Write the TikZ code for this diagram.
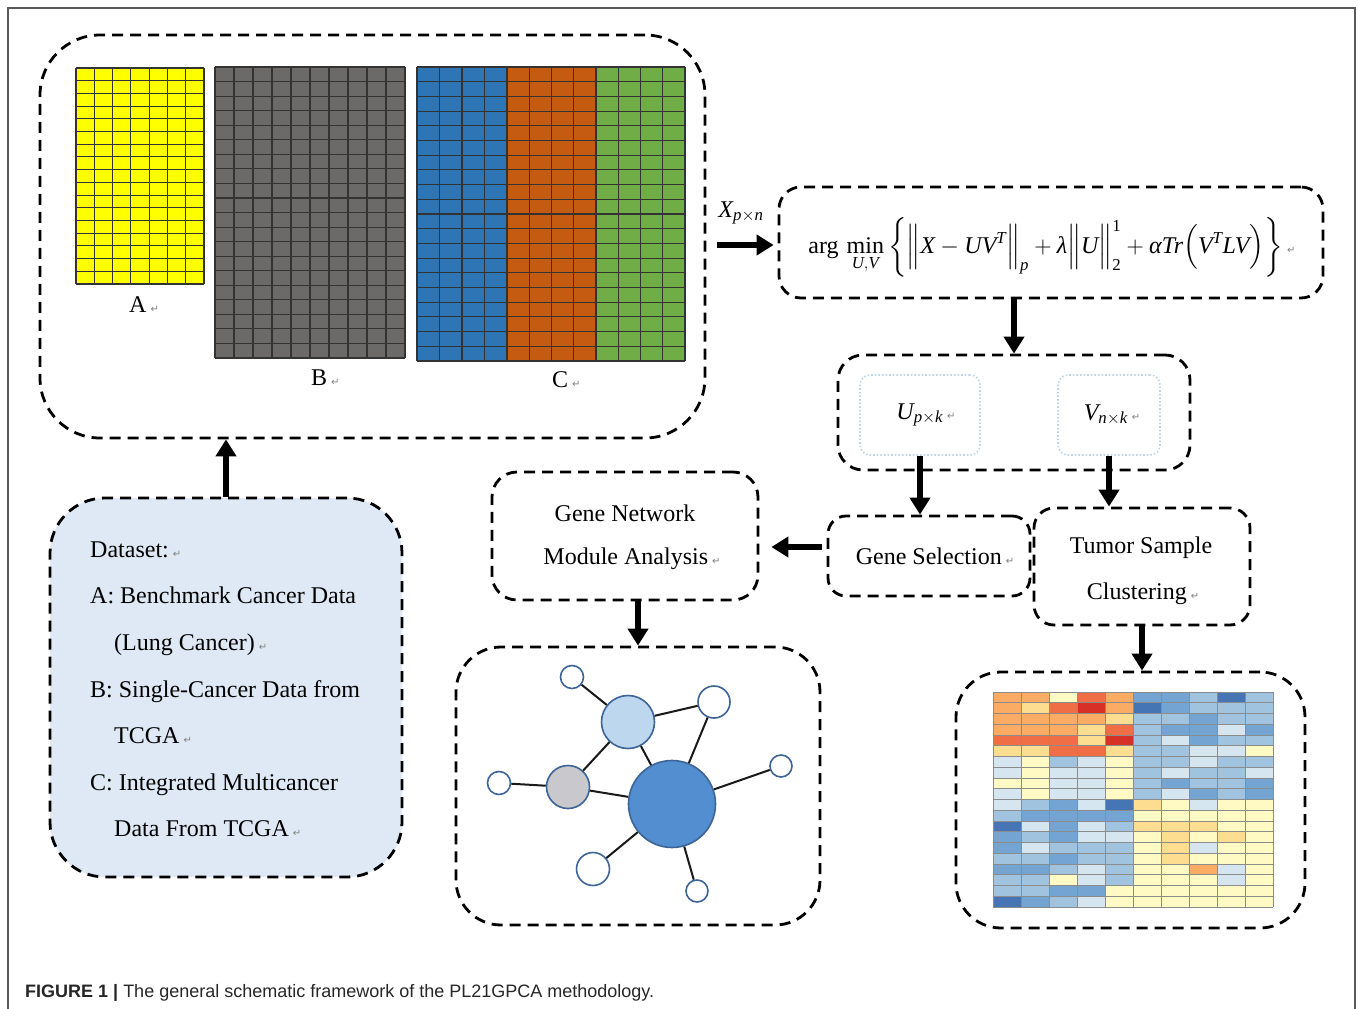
\RequirePackage{fix-cm}
\documentclass[tikz,border=0pt]{standalone}
\usepackage{amsmath}
\usepackage{fontspec}
\usepackage{graphicx}
\setmainfont{Liberation Serif}
\newfontfamily\capfont{Liberation Sans}
\newfontfamily\symfont{DejaVu Sans}
\usetikzlibrary{arrows.meta,calc}

\definecolor{myyellow}{RGB}{255,255,0}
\definecolor{mygray}{RGB}{108,105,105}
\definecolor{myblue}{RGB}{46,117,182}
\definecolor{myorange}{RGB}{197,90,17}
\definecolor{mygreen}{RGB}{112,173,71}
\definecolor{datafill}{RGB}{222,233,245}
\definecolor{dotblue}{RGB}{190,212,232}
\definecolor{netline}{RGB}{60,100,150}
\definecolor{netlight}{RGB}{189,215,238}
\definecolor{netbig}{RGB}{82,142,208}
\definecolor{netgray}{RGB}{200,200,205}
\definecolor{hm1}{RGB}{69,117,180}
\definecolor{hm2}{RGB}{116,165,210}
\definecolor{hm3}{RGB}{160,196,224}
\definecolor{hm4}{RGB}{214,230,240}
\definecolor{hm5}{RGB}{255,250,195}
\definecolor{hm6}{RGB}{253,222,145}
\definecolor{hm7}{RGB}{250,172,100}
\definecolor{hm8}{RGB}{240,110,70}
\definecolor{hm9}{RGB}{215,48,39}

\newcommand\retmark{\,{\symfont\fontsize{10}{10}\selectfont\color{gray}↵}}
\newcommand\ti[1]{\textit{#1}}
\newcommand\gridmat[7]{%
  \fill[#7] (#1,#2) rectangle (#3,#4);
  \foreach \i in {0,...,#5} {\draw[gridl] ({#1+\i*(#3-#1)/#5},#2) -- ({#1+\i*(#3-#1)/#5},#4);}
  \foreach \j in {0,...,#6} {\draw[gridl] (#1,{#2+\j*(#4-#2)/#6}) -- (#3,{#2+\j*(#4-#2)/#6});}
}

\tikzset{
  dbox/.style={draw=black, line width=2.8pt, dash pattern=on 11pt off 7pt, inner sep=0pt},
  dotbox/.style={draw=dotblue, line width=1.6pt, dotted, rounded corners=10pt, inner sep=0pt},
  gridl/.style={line width=1.1pt, draw=black!80},
  bigarrow/.style={line width=6pt, -{Triangle[length=17pt,width=20pt]}},
  txt/.style={inner sep=0pt, font=\fontsize{24}{28}\selectfont},
  nn/.style={circle, draw=netline, line width=1.6pt, fill=white, inner sep=0pt, minimum size=#1},
  nedge/.style={line width=2pt, draw=black!90},
}

\begin{document}
\begin{tikzpicture}[x=1pt,y=-1pt]
\useasboundingbox (0,0) rectangle (1358,1009);
% outer frame
\draw[line width=1.5pt, draw=black!65] (8,1009) -- (8,8) -- (1355,8) -- (1355,1009);

% boxes
\node[dbox, rounded corners=60pt, minimum width=665pt, minimum height=403pt] (mat) at (372.5,236.5) {};
\node[dbox, fill=datafill, rounded corners=55pt, minimum width=352pt, minimum height=379pt] (data) at (226,687.5) {};
\node[dbox, rounded corners=22pt, minimum width=544pt, minimum height=111pt] (fbox) at (1051,242.5) {};
\node[dbox, rounded corners=25pt, minimum width=352pt, minimum height=115pt] (uvbox) at (1014,412.5) {};
\node[dotbox, minimum width=120pt, minimum height=80pt] (ubox) at (920,415) {};
\node[dotbox, minimum width=102pt, minimum height=80pt] (vbox) at (1109,415) {};
\node[dbox, rounded corners=18pt, minimum width=202pt, minimum height=80pt] (gs) at (929,556) {};
\node[dbox, rounded corners=20pt, minimum width=216pt, minimum height=117pt] (ts) at (1142,566.5) {};
\node[dbox, rounded corners=25pt, minimum width=266pt, minimum height=128pt] (gn) at (625,536) {};
\node[dbox, rounded corners=45pt, minimum width=364pt, minimum height=278pt] (net) at (638,786) {};
\node[dbox, rounded corners=45pt, minimum width=349pt, minimum height=256pt] (hbox) at (1130.5,800) {};

% matrices
\gridmat{76}{68}{204}{284}{7}{17}{myyellow}
\gridmat{215}{67}{405}{358}{10}{20}{mygray}
\gridmat{417}{67}{507}{361}{4}{20}{myblue}
\gridmat{507}{67}{596}{361}{4}{20}{myorange}
\gridmat{596}{67}{685}{361}{4}{20}{mygreen}
\node[txt, anchor=base west] (la) at (129,312) {A\retmark};
\node[txt, anchor=base west] (lb) at (311,385) {B\retmark};
\node[txt, anchor=base west] (lc) at (552,387) {C\retmark};

% dataset text
\node[txt, anchor=base west] (d1) at (90,557) {Dataset:\retmark};
\node[txt, anchor=base west] (d2) at (90,603) {A: Benchmark Cancer Data};
\node[txt, anchor=base west] (d3) at (114,650) {(Lung Cancer)\retmark};
\node[txt, anchor=base west] (d4) at (90,697) {B: Single-Cancer Data from};
\node[txt, anchor=base west] (d5) at (114,743) {TCGA\retmark};
\node[txt, anchor=base west] (d6) at (90,790) {C: Integrated Multicancer};
\node[txt, anchor=base west] (d7) at (114,836) {Data From TCGA\retmark};

% formula
\node[txt] (form) at (1052,247) {$\text{arg}\,\mathop{\text{min}}\limits_{\ti{U},\ti{V}}\bigg\{\Big\|\ti{X}-\ti{UV}^{\ti{T}}\Big\|_{\ti{p}}+\ti{λ}\Big\|\ti{U}\Big\|_{\text{2}}^{\text{1}}+\ti{α}\ti{Tr}\Big(\ti{V}^{\ti{T}}\ti{LV}\Big)\bigg\}$\retmark};
\node[txt] (xl) at (741,213) {$\ti{X}_{\ti{p}\times\ti{n}}$};

% U V
\node[txt] (ul) at (926,415) {$\ti{U}_{\ti{p}\times\ti{k}}$\retmark};
\node[txt] (vl) at (1112,415) {$\ti{V}_{\ti{n}\times\ti{k}}$\retmark};

% process texts
\node[txt] (gst) at (935,556) {Gene Selection\retmark};
\node[txt] (ts1) at (1141,548) {Tumor Sample};
\node[txt] (ts2) at (1143,594) {Clustering\retmark};
\node[txt] (gn1) at (625,513) {Gene Network};
\node[txt] (gn2) at (632,559) {Module Analysis\retmark};

% arrows
\draw[bigarrow] (data.north) -- (data.north |- mat.south);
\draw[bigarrow] ($(mat.east |- 0,245)+(11,0)$) -- ($(fbox.west |- 0,245)+(-4,0)$);
\draw[bigarrow] (uvbox.north |- fbox.south) -- (uvbox.north);
\draw[bigarrow] (ubox.south) -- (ubox.south |- gs.north);
\draw[bigarrow] (vbox.south) -- (vbox.south |- ts.north);
\draw[bigarrow] ($(gs.west |- 0,547)+(-5,0)$) -- ($(gn.east |- 0,547)+(12,0)$);
\draw[bigarrow] (net.north |- gn.south) -- (net.north);
\draw[bigarrow] (ts.south) -- (ts.south |- hbox.north);

% network
\node[nn=23pt] (n1) at (572,677) {};
\node[nn=53pt, fill=netlight] (n2) at (628,722) {};
\node[nn=32pt] (n3) at (714,702) {};
\node[nn=43pt, fill=netgray] (n4) at (568,787) {};
\node[nn=23pt] (n5) at (499,783) {};
\node[nn=87pt, fill=netbig] (n6) at (672,804) {};
\node[nn=22pt] (n7) at (781,766) {};
\node[nn=33pt] (n8) at (593,869) {};
\node[nn=22pt] (n9) at (697,891) {};
\draw[nedge] (n1) -- (n2);
\draw[nedge] (n2) -- (n3);
\draw[nedge] (n2) -- (n6);
\draw[nedge] (n2) -- (n4);
\draw[nedge] (n3) -- (n6);
\draw[nedge] (n4) -- (n5);
\draw[nedge] (n4) -- (n6);
\draw[nedge] (n6) -- (n7);
\draw[nedge] (n6) -- (n8);
\draw[nedge] (n6) -- (n9);

% heatmap
\foreach \row [count=\r from 0] in {
 {7,7,5,8,7,2,2,3,1,3},
 {7,6,8,9,7,1,2,3,3,3},
 {7,7,7,7,6,3,3,2,3,3},
 {7,7,7,6,8,3,2,2,4,2},
 {8,8,8,6,9,3,4,2,3,3},
 {6,6,8,8,6,3,3,4,4,5},
 {4,5,3,4,5,3,3,4,3,3},
 {4,5,4,4,5,3,4,3,3,4},
 {5,5,4,4,5,3,2,3,3,2},
 {4,5,4,4,5,3,4,2,3,2},
 {4,3,2,4,1,6,5,4,5,5},
 {3,2,2,2,2,5,5,5,5,5},
 {1,4,2,4,3,6,6,6,5,5},
 {2,3,2,4,4,5,6,5,6,5},
 {2,4,3,3,3,5,6,4,5,5},
 {3,3,2,3,3,5,6,5,5,5},
 {2,2,3,4,3,5,5,7,4,5},
 {3,3,5,4,3,5,5,5,4,5},
 {3,3,2,2,5,5,5,5,5,5},
 {1,2,3,4,5,5,5,5,5,5}} {
  \foreach \v [count=\c from 0] in \row {
    \fill[hm\v] ({993+\c*28},{692+\r*10.75}) rectangle ++(28,10.75);
  }
}
\foreach \c in {0,...,10} {\draw[line width=0.7pt, draw=black!45] ({993+\c*28},692) -- ({993+\c*28},907);}
\foreach \r in {0,...,20} {\draw[line width=0.7pt, draw=black!45] (993,{692+\r*10.75}) -- (1273,{692+\r*10.75});}

% caption
\node[anchor=base west, inner sep=0pt, text=black!85] (cap) at (25,997) {\capfont\fontsize{18}{20}\selectfont\textbf{FIGURE 1 |} The general schematic framework of the PL21GPCA methodology.};
\end{tikzpicture}
\end{document}
